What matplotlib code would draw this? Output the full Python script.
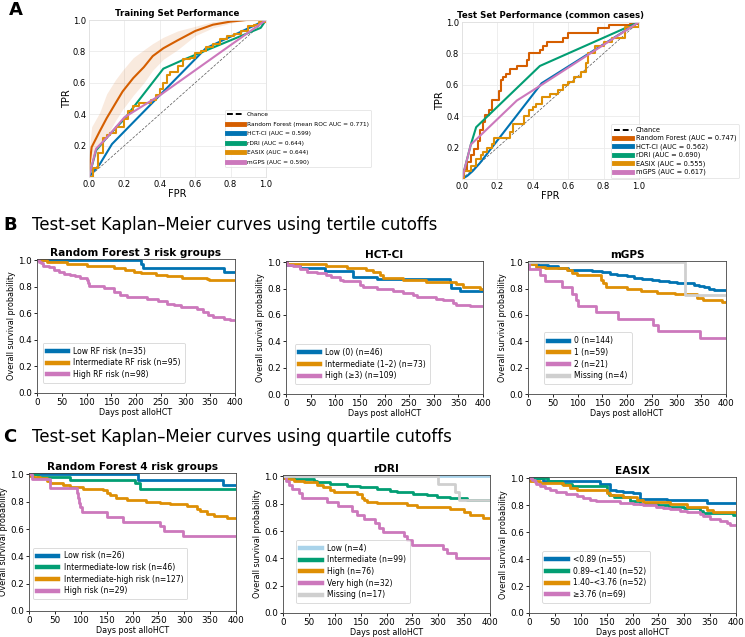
import matplotlib
matplotlib.use("Agg")
import matplotlib.pyplot as plt
from matplotlib.lines import Line2D

# ---------------- colours ----------------
C_BLUE = "#0173B2"
C_ORANGE = "#DE8F05"
C_GREEN = "#029E73"
C_RED = "#D55E00"
C_PINK = "#CC78BC"
C_LBLUE = "#A9D3EA"
C_GREY = "#CFCFCF"

# ---------------- ROC data: training ----------------
tr_rf_fpr = [0, 0, 0.015, 0.06, 0.1, 0.15, 0.19, 0.25, 0.31, 0.36, 0.42, 0.5, 0.6, 0.7, 0.8, 0.89, 1.0]
tr_rf_tpr = [0, 0.05, 0.19, 0.29, 0.375, 0.47, 0.545, 0.63, 0.70, 0.77, 0.82, 0.87, 0.93, 0.97, 0.99, 1.0, 1.0]
tr_rf_up = [0, 0.15, 0.32, 0.41, 0.53, 0.62, 0.68, 0.76, 0.81, 0.85, 0.89, 0.93, 0.96, 0.99, 1.0, 1.0, 1.0]
tr_rf_lo = [0, 0, 0.08, 0.18, 0.26, 0.36, 0.43, 0.52, 0.60, 0.68, 0.75, 0.81, 0.90, 0.95, 0.98, 1.0, 1.0]
tr_hct_fpr = [0, 0.06, 0.13, 0.66, 1.0]
tr_hct_tpr = [0, 0.08, 0.21, 0.82, 1.0]
tr_rdri_fpr = [0, 0.04, 0.1, 0.2, 0.42, 0.53, 0.97, 1.0]
tr_rdri_tpr = [0, 0.17, 0.25, 0.37, 0.69, 0.745, 0.95, 1.0]
tr_easix_fpr = [0, 0.02, 0.05, 0.08, 0.1, 0.12, 0.15, 0.2, 0.22, 0.25, 0.28, 0.3, 0.32, 0.35, 0.38, 0.4,
                0.42, 0.44, 0.46, 0.5, 0.53, 0.57, 0.6, 0.63, 0.66, 0.7, 0.74, 0.78, 0.82, 0.86, 0.9, 0.93, 0.96, 1.0]
tr_easix_tpr = [0, 0.06, 0.15, 0.25, 0.27, 0.28, 0.32, 0.37, 0.42, 0.45, 0.47, 0.47, 0.47, 0.49, 0.52, 0.56,
                0.6, 0.65, 0.67, 0.71, 0.75, 0.76, 0.79, 0.8, 0.83, 0.85, 0.88, 0.9, 0.91, 0.93, 0.96, 0.97, 0.99, 1.0]
tr_mgps_fpr = [0, 0.04, 0.1, 0.2, 0.4, 1.0]
tr_mgps_tpr = [0, 0.18, 0.25, 0.38, 0.52, 1.0]
tr_labels = ["Chance", "Random Forest (mean ROC AUC = 0.771)", "HCT-CI (AUC = 0.599)",
             "rDRI (AUC = 0.644)", "EASIX (AUC = 0.644)", "mGPS (AUC = 0.590)"]

# ---------------- ROC data: test ----------------
te_rf_fpr = [0, 0, 0.01, 0.03, 0.05, 0.07, 0.09, 0.1, 0.12, 0.13, 0.15, 0.17, 0.21, 0.22, 0.23, 0.25, 0.27,
             0.31, 0.37, 0.38, 0.44, 0.46, 0.48, 0.57, 0.6, 0.77, 0.83, 0.95, 1.0]
te_rf_tpr = [0, 0.02, 0.06, 0.11, 0.15, 0.19, 0.24, 0.31, 0.36, 0.41, 0.44, 0.5, 0.56, 0.63, 0.65, 0.67, 0.7,
             0.72, 0.76, 0.8, 0.82, 0.85, 0.87, 0.9, 0.93, 0.96, 0.98, 0.99, 1.0]
te_hct_fpr = [0, 0.03, 0.06, 0.1, 0.45, 1.0]
te_hct_tpr = [0, 0.02, 0.05, 0.1, 0.61, 1.0]
te_rdri_fpr = [0, 0.05, 0.08, 0.44, 1.0]
te_rdri_tpr = [0, 0.22, 0.33, 0.72, 1.0]
te_easix_fpr = [0, 0.01, 0.05, 0.08, 0.11, 0.12, 0.14, 0.17, 0.18, 0.27, 0.29, 0.34, 0.35, 0.38, 0.4, 0.42,
                0.45, 0.5, 0.54, 0.57, 0.6, 0.63, 0.67, 0.7, 0.71, 0.75, 0.8, 0.85, 0.92, 1.0]
te_easix_tpr = [0, 0.05, 0.08, 0.13, 0.15, 0.17, 0.2, 0.22, 0.26, 0.3, 0.35, 0.35, 0.4, 0.44, 0.46, 0.48,
                0.52, 0.54, 0.57, 0.6, 0.62, 0.65, 0.68, 0.74, 0.8, 0.85, 0.87, 0.9, 0.97, 1.0]
te_mgps_fpr = [0, 0.05, 0.06, 0.31, 0.45, 1.0]
te_mgps_tpr = [0, 0.22, 0.23, 0.5, 0.6, 1.0]
te_labels = ["Chance", "Random Forest (AUC = 0.747)", "HCT-CI (AUC = 0.562)",
             "rDRI (AUC = 0.690)", "EASIX (AUC = 0.555)", "mGPS (AUC = 0.617)"]

# ---------------- KM data: B (tertiles) ----------------
b1_low_t = [0, 210, 214, 377, 400]
b1_low_s = [1.0, 0.971, 0.943, 0.914, 0.914]
b1_int_t = [0, 20, 60, 100, 155, 178, 195, 210, 240, 262, 292, 343, 347, 400]
b1_int_s = [1.0, 0.99, 0.975, 0.96, 0.945, 0.925, 0.915, 0.905, 0.89, 0.88, 0.87, 0.86, 0.85, 0.85]
b1_high_t = [0, 4, 8, 13, 24, 34, 44, 54, 67, 77, 87, 100, 103, 106, 135, 155, 168, 182, 222, 245, 262, 276,
             290, 323, 336, 346, 356, 377, 390, 400]
b1_high_s = [1.0, 0.99, 0.98, 0.96, 0.95, 0.925, 0.91, 0.9, 0.89, 0.88, 0.87, 0.855, 0.83, 0.805, 0.79, 0.76,
             0.74, 0.72, 0.71, 0.69, 0.67, 0.66, 0.65, 0.63, 0.61, 0.59, 0.57, 0.56, 0.55, 0.55]
b1_labels = ["Low RF risk (n=35)", "Intermediate RF risk (n=95)", "High RF risk (n=98)"]

b2_low_t = [0, 3, 28, 79, 136, 184, 332, 336, 353, 400]
b2_low_s = [1.0, 0.978, 0.957, 0.935, 0.891, 0.870, 0.848, 0.804, 0.783, 0.783]
b2_int_t = [0, 2, 82, 123, 163, 177, 190, 197, 238, 285, 346, 360, 393, 400]
b2_int_s = [1.0, 0.99, 0.975, 0.96, 0.94, 0.93, 0.9, 0.88, 0.866, 0.85, 0.835, 0.815, 0.795, 0.795]
b2_high_t = [0, 3, 15, 28, 42, 62, 82, 92, 109, 116, 150, 157, 184, 218, 238, 258, 265, 305, 319, 339, 346,
             373, 400]
b2_high_s = [1.0, 0.98, 0.97, 0.95, 0.93, 0.92, 0.90, 0.885, 0.866, 0.855, 0.83, 0.81, 0.80, 0.78, 0.765,
             0.75, 0.74, 0.72, 0.715, 0.69, 0.677, 0.67, 0.67]
b2_labels = ["Low (0) (n=46)", "Intermediate (1–2) (n=73)", "High (≥3) (n=109)"]

b3_g0_t = [0, 8, 20, 40, 60, 80, 100, 130, 150, 165, 180, 200, 215, 230, 250, 265, 285, 300, 320, 335, 345,
           355, 365, 375, 400]
b3_g0_s = [1.0, 0.99, 0.98, 0.97, 0.96, 0.945, 0.94, 0.935, 0.925, 0.915, 0.905, 0.895, 0.88, 0.87, 0.865,
           0.855, 0.85, 0.845, 0.84, 0.83, 0.82, 0.81, 0.80, 0.79, 0.79]
b3_g1_t = [0, 2, 17, 34, 78, 88, 98, 148, 152, 158, 199, 229, 260, 297, 341, 354, 391, 400]
b3_g1_s = [1.0, 0.985, 0.967, 0.955, 0.94, 0.92, 0.90, 0.866, 0.84, 0.815, 0.80, 0.78, 0.77, 0.757, 0.727,
           0.715, 0.697, 0.697]
b3_g2_t = [0, 2, 25, 35, 68, 88, 97, 102, 138, 182, 252, 262, 347, 400]
b3_g2_s = [1.0, 0.952, 0.905, 0.857, 0.810, 0.762, 0.714, 0.667, 0.619, 0.571, 0.524, 0.476, 0.429, 0.429]
b3_miss_t = [0, 317, 400]
b3_miss_s = [1.0, 0.75, 0.75]
b3_labels = ["0 (n=144)", "1 (n=59)", "2 (n=21)", "Missing (n=4)"]

# ---------------- KM data: C (quartiles) ----------------
c1_low_t = [0, 210, 375, 400]
c1_low_s = [1.0, 0.962, 0.923, 0.923]
c1_il_t = [0, 17, 79, 205, 215, 400]
c1_il_s = [1.0, 0.978, 0.957, 0.935, 0.891, 0.891]
c1_ih_t = [0, 1, 8, 22, 35, 40, 66, 79, 105, 143, 150, 156, 169, 189, 227, 253, 273, 305, 324, 331, 344,
           357, 382, 400]
c1_ih_s = [1.0, 0.99, 0.98, 0.97, 0.955, 0.937, 0.92, 0.907, 0.895, 0.883, 0.863, 0.846, 0.827, 0.815, 0.80,
           0.79, 0.78, 0.766, 0.75, 0.73, 0.71, 0.695, 0.68, 0.68]
c1_hi_t = [0, 5, 40, 92, 94, 96, 98, 102, 150, 182, 253, 260, 298, 400]
c1_hi_s = [1.0, 0.966, 0.897, 0.862, 0.828, 0.793, 0.759, 0.724, 0.690, 0.655, 0.621, 0.586, 0.552, 0.552]
c1_labels = ["Low risk (n=26)", "Intermediate-low risk (n=46)", "Intermediate-high risk (n=127)",
             "High risk (n=29)"]

c2_low_t = [0, 400]
c2_low_s = [1.0, 1.0]
c2_int_t = [0, 2, 21, 59, 66, 91, 123, 149, 181, 207, 220, 252, 278, 297, 323, 355, 400]
c2_int_s = [1.0, 0.987, 0.98, 0.968, 0.956, 0.944, 0.93, 0.92, 0.907, 0.895, 0.883, 0.87, 0.86, 0.85, 0.84,
            0.83, 0.83]
c2_high_t = [0, 2, 8, 21, 40, 66, 78, 91, 98, 143, 152, 156, 162, 181, 239, 259, 323, 349, 361, 387, 400]
c2_high_s = [1.0, 0.987, 0.98, 0.968, 0.956, 0.937, 0.92, 0.90, 0.888, 0.87, 0.84, 0.83, 0.815, 0.805, 0.79,
             0.774, 0.76, 0.737, 0.72, 0.693, 0.693]
c2_vh_t = [0, 5, 11, 17, 30, 37, 85, 107, 133, 143, 156, 178, 185, 194, 233, 239, 249, 310, 316, 334, 400]
c2_vh_s = [1.0, 0.969, 0.938, 0.906, 0.875, 0.844, 0.812, 0.781, 0.75, 0.719, 0.688, 0.656, 0.625, 0.594,
           0.562, 0.531, 0.5, 0.469, 0.438, 0.406, 0.406]
c2_miss_t = [0, 300, 332, 340, 400]
c2_miss_s = [1.0, 0.941, 0.882, 0.824, 0.824]
c2_labels = ["Low (n=4)", "Intermediate (n=99)", "High (n=76)", "Very high (n=32)", "Missing (n=17)"]

c3_q1_t = [0, 27, 137, 156, 169, 182, 201, 214, 266, 343, 400]
c3_q1_s = [1.0, 0.98, 0.956, 0.916, 0.906, 0.90, 0.89, 0.85, 0.837, 0.818, 0.818]
c3_q2_t = [0, 37, 63, 83, 150, 155, 165, 195, 215, 250, 270, 300, 330, 337, 395, 400]
c3_q2_s = [1.0, 0.98, 0.96, 0.94, 0.90, 0.875, 0.86, 0.83, 0.81, 0.80, 0.79, 0.78, 0.76, 0.745, 0.727, 0.727]
c3_q3_t = [0, 1, 21, 66, 79, 92, 150, 156, 182, 208, 221, 272, 305, 343, 356, 400]
c3_q3_s = [1.0, 0.98, 0.968, 0.948, 0.93, 0.91, 0.89, 0.88, 0.86, 0.84, 0.825, 0.81, 0.79, 0.765, 0.75, 0.75]
c3_q4_t = [0, 5, 11, 14, 21, 30, 40, 53, 72, 92, 105, 117, 130, 175, 201, 221, 246, 259, 272, 292, 305, 330,
           337, 350, 369, 382, 388, 400]
c3_q4_s = [1.0, 0.985, 0.97, 0.955, 0.94, 0.93, 0.91, 0.90, 0.885, 0.87, 0.855, 0.84, 0.83, 0.82, 0.81, 0.80,
           0.79, 0.78, 0.77, 0.76, 0.75, 0.735, 0.72, 0.70, 0.685, 0.665, 0.65, 0.65]
c3_labels = ["<0.89 (n=55)", "0.89–<1.40 (n=52)", "1.40–<3.76 (n=52)", "≥3.76 (n=69)"]

# ---------------- figure ----------------
W, H = 745, 637
plt.rcParams["font.family"] = ["DejaVu Sans"]
fig = plt.figure(figsize=(W / 100, H / 100), dpi=100)


def add_ax(l, t, r, b):
    return fig.add_axes([l / W, 1 - b / H, (r - l) / W, (b - t) / H])


def roc_axes(ax, title):
    ax.set_xlim(0, 1)
    ax.set_ylim(0, 1)
    ax.set_xticks([0, 0.2, 0.4, 0.6, 0.8, 1.0])
    ax.set_yticks([0.2, 0.4, 0.6, 0.8, 1.0])
    ax.tick_params(labelsize=6, length=0, pad=2)
    ax.grid(True, color="#ebebeb", lw=0.6)
    ax.set_axisbelow(True)
    for s in ax.spines.values():
        s.set_color("#e0e0e0")
        s.set_linewidth(0.6)
    ax.set_xlabel("FPR", fontsize=7, labelpad=0)
    ax.set_ylabel("TPR", fontsize=7, labelpad=1)
    ax.set_title(title, fontsize=6.2, fontweight="bold", pad=3)
    ax.plot([0, 1], [0, 1], ls="--", color="#555555", lw=0.5, dashes=(4, 2))


def roc_legend(ax, labels, anchor, fs, spacing):
    handles = [Line2D([], [], color="black", ls="--", lw=1.4, dashes=(3, 1.5))]
    for c in [C_RED, C_BLUE, C_GREEN, C_ORANGE, C_PINK]:
        handles.append(Line2D([], [], color=c, lw=3.5))
    leg = ax.legend(handles, labels, loc="lower left", bbox_to_anchor=(anchor[0] / W, 1 - anchor[1] / H),
                    bbox_transform=fig.transFigure, fontsize=fs, labelspacing=spacing, handlelength=2.8,
                    borderpad=0.4, handletextpad=0.5, frameon=True, fancybox=True, borderaxespad=0)
    leg.get_frame().set_edgecolor("#dddddd")
    leg.get_frame().set_linewidth(0.6)


# Panel A left
axA1 = add_ax(89, 20, 266, 177)
roc_axes(axA1, "Training Set Performance")
axA1.fill_between(tr_rf_fpr, tr_rf_lo, tr_rf_up, color=C_RED, alpha=0.13, lw=0)
axA1.plot(tr_rf_fpr, tr_rf_tpr, color=C_RED, lw=1.5)
axA1.plot(tr_hct_fpr, tr_hct_tpr, color=C_BLUE, lw=1.5)
axA1.plot(tr_rdri_fpr, tr_rdri_tpr, color=C_GREEN, lw=1.5)
axA1.plot(tr_easix_fpr, tr_easix_tpr, color=C_ORANGE, lw=1.5, drawstyle="steps-post")
axA1.plot(tr_mgps_fpr, tr_mgps_tpr, color=C_PINK, lw=1.5)
roc_legend(axA1, tr_labels, (225, 167), 4.2, 0.75)

# Panel A right
axA2 = add_ax(462, 22, 639, 179)
roc_axes(axA2, "Test Set Performance (common cases)")
axA2.plot(te_rf_fpr, te_rf_tpr, color=C_RED, lw=1.5, drawstyle="steps-post")
axA2.plot(te_hct_fpr, te_hct_tpr, color=C_BLUE, lw=1.5)
axA2.plot(te_rdri_fpr, te_rdri_tpr, color=C_GREEN, lw=1.5)
axA2.plot(te_easix_fpr, te_easix_tpr, color=C_ORANGE, lw=1.5, drawstyle="steps-post")
axA2.plot(te_mgps_fpr, te_mgps_tpr, color=C_PINK, lw=1.5)
roc_legend(axA2, te_labels, (611, 178), 4.8, 0.3)


def km_axes(ax, title, curves, labels, leg_anchor, xlabel=True):
    for (t, s, c), lab in zip(curves, labels):
        ax.step(t, s, where="post", color=c, lw=2, label=lab)
    ax.set_xlim(0, 400)
    ax.set_ylim(0, 1.01)
    ax.set_xticks(range(0, 401, 50))
    ax.set_yticks([0, 0.2, 0.4, 0.6, 0.8, 1.0])
    ax.tick_params(labelsize=6.3, length=2.5, width=0.6, pad=1)
    for s in ax.spines.values():
        s.set_linewidth(0.6)
        s.set_color("#444444")
    ax.set_ylabel("Overall survival probability", fontsize=5.8, labelpad=1.5)
    if xlabel:
        ax.set_xlabel("Days post alloHCT", fontsize=5.8, labelpad=1)
    ax.set_title(title, fontsize=7.6, fontweight="bold", pad=2.5)
    leg = ax.legend(loc="lower left", bbox_to_anchor=leg_anchor, fontsize=5.5, handlelength=2.8,
                    labelspacing=0.35, borderpad=0.5, handletextpad=0.7, borderaxespad=0)
    for ln in leg.get_lines():
        ln.set_linewidth(3.2)
    leg.get_frame().set_linewidth(0.6)


# Panel B
axB1 = add_ax(37, 259, 235, 393)
km_axes(axB1, "Random Forest 3 risk groups",
        [(b1_low_t, b1_low_s, C_BLUE), (b1_int_t, b1_int_s, C_ORANGE), (b1_high_t, b1_high_s, C_PINK)],
        b1_labels, (0.03, 0.075))
axB2 = add_ax(286, 261, 483, 394)
km_axes(axB2, "HCT-CI",
        [(b2_low_t, b2_low_s, C_BLUE), (b2_int_t, b2_int_s, C_ORANGE), (b2_high_t, b2_high_s, C_PINK)],
        b2_labels, (0.045, 0.075))
axB3 = add_ax(528, 261, 726, 394)
km_axes(axB3, "mGPS",
        [(b3_g0_t, b3_g0_s, C_BLUE), (b3_g1_t, b3_g1_s, C_ORANGE), (b3_g2_t, b3_g2_s, C_PINK),
         (b3_miss_t, b3_miss_s, C_GREY)],
        b3_labels, (0.08, 0.075))

# Panel C
axC1 = add_ax(29, 473, 236, 611)
km_axes(axC1, "Random Forest 4 risk groups",
        [(c1_low_t, c1_low_s, C_BLUE), (c1_il_t, c1_il_s, C_GREEN), (c1_ih_t, c1_ih_s, C_ORANGE),
         (c1_hi_t, c1_hi_s, C_PINK)],
        c1_labels, (0.02, 0.085))
axC2 = add_ax(283, 475, 490, 613)
km_axes(axC2, "rDRI",
        [(c2_low_t, c2_low_s, C_LBLUE), (c2_int_t, c2_int_s, C_GREEN), (c2_high_t, c2_high_s, C_ORANGE),
         (c2_vh_t, c2_vh_s, C_PINK), (c2_miss_t, c2_miss_s, C_GREY)],
        c2_labels, (0.065, 0.072))
axC3 = add_ax(529, 477, 736, 613)
km_axes(axC3, "EASIX",
        [(c3_q1_t, c3_q1_s, C_BLUE), (c3_q2_t, c3_q2_s, C_GREEN), (c3_q3_t, c3_q3_s, C_ORANGE),
         (c3_q4_t, c3_q4_s, C_PINK)],
        c3_labels, (0.065, 0.075))

# Panel letters and headers
fig.text(9 / W, 1 - 10 / H, "A", fontsize=13, fontweight="bold", va="center", ha="left")
fig.text(3 / W, 1 - 225 / H, "B", fontsize=13, fontweight="bold", va="center", ha="left")
fig.text(3 / W, 1 - 437 / H, "C", fontsize=13, fontweight="bold", va="center", ha="left")
fig.text(32 / W, 1 - 225 / H, "Test-set Kaplan–Meier curves using tertile cutoffs", fontsize=11.9,
         va="center", ha="left")
fig.text(32 / W, 1 - 437 / H, "Test-set Kaplan–Meier curves using quartile cutoffs", fontsize=11.9,
         va="center", ha="left")

fig.savefig("out.png", dpi=100)
